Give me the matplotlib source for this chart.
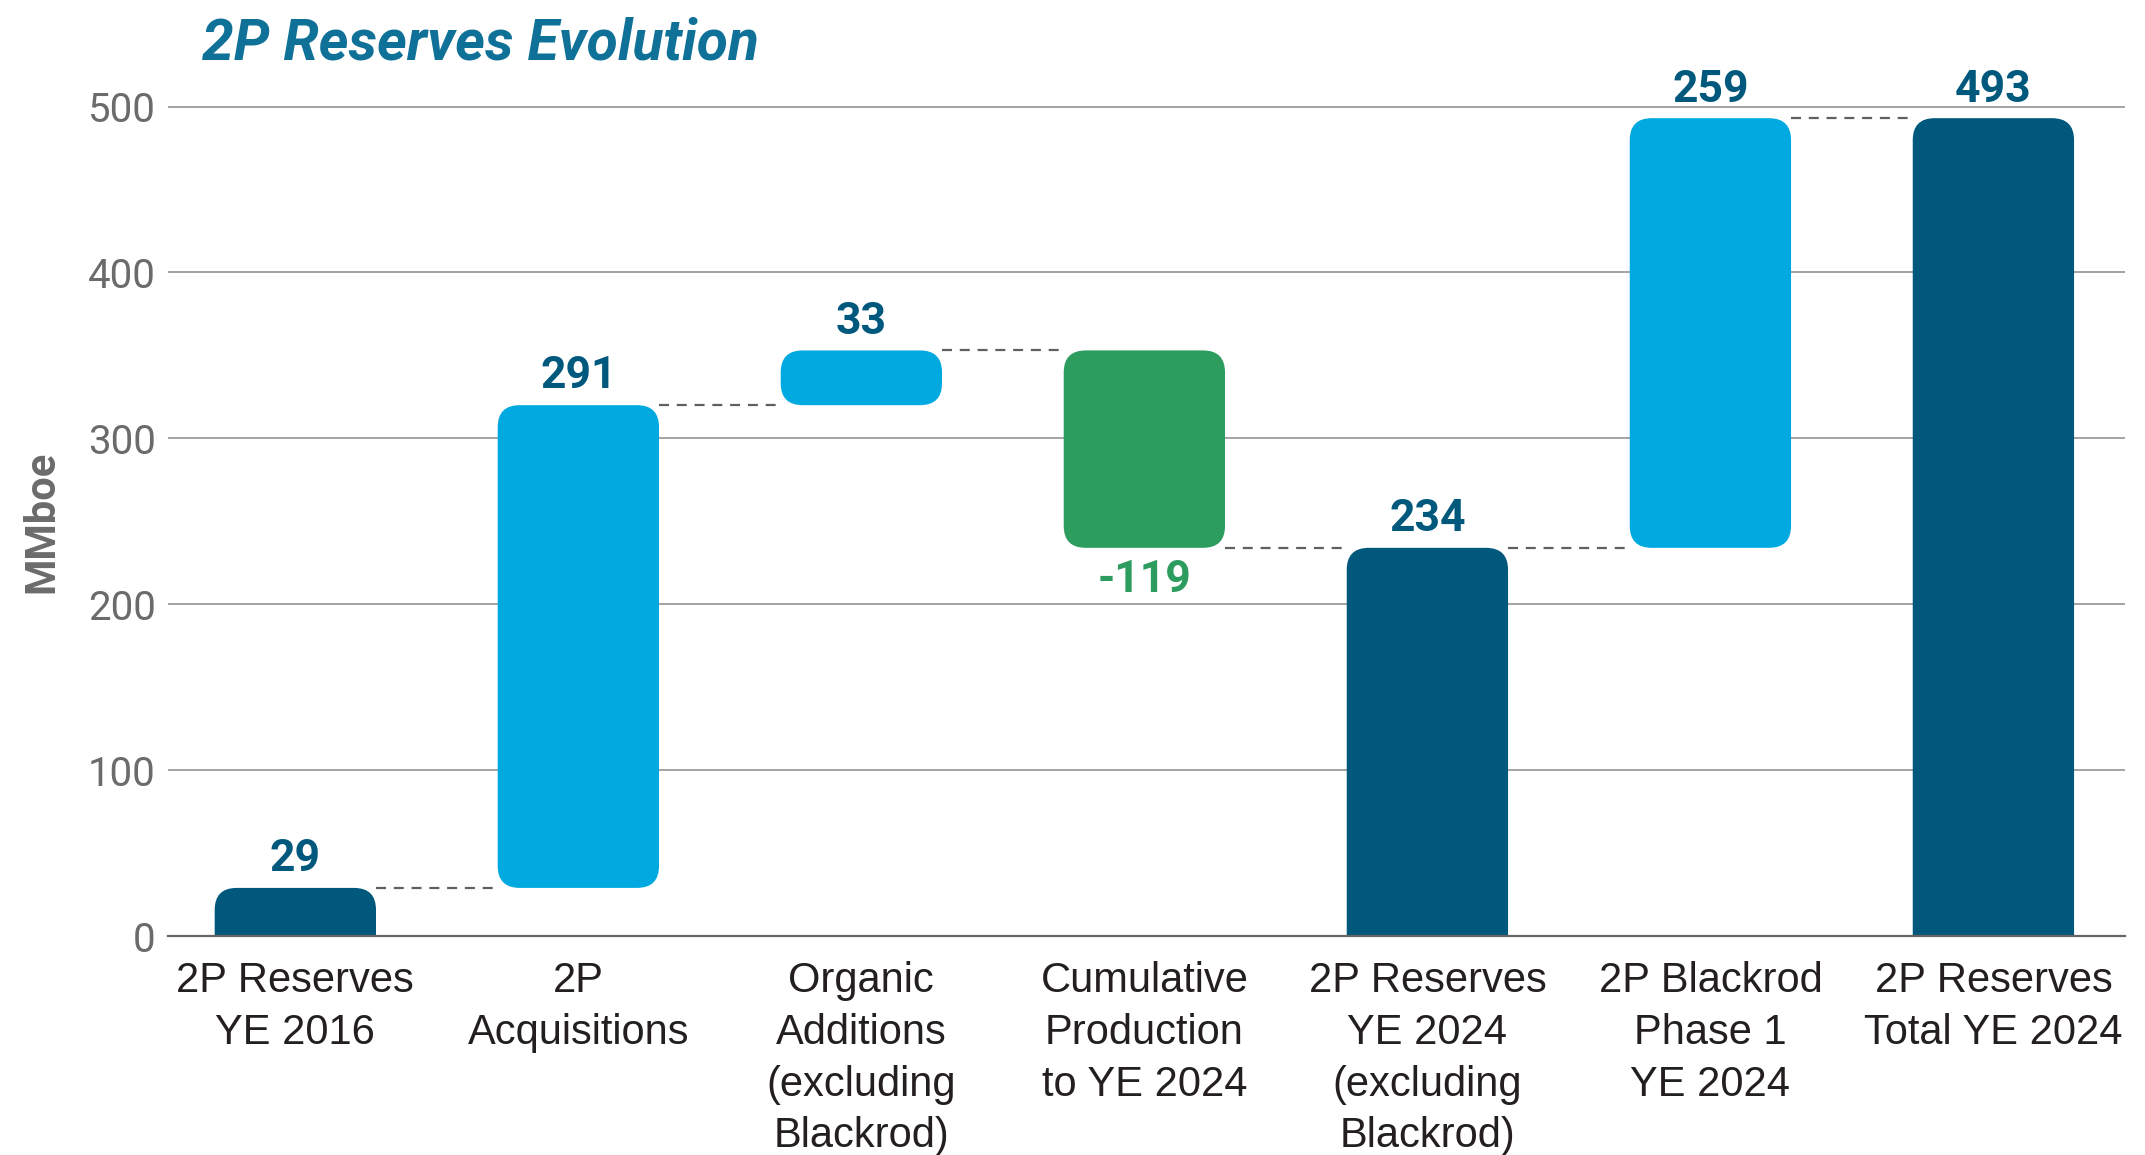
import numpy as np
import matplotlib
matplotlib.use("Agg")
import matplotlib.pyplot as plt
from matplotlib.patches import FancyBboxPatch

# -------------------- Data --------------------
categories = [
    "2P Reserves\nYE 2016",
    "2P\nAcquisitions",
    "Organic\nAdditions\n(excluding\nBlackrod)",
    "Cumulative\nProduction\nto YE 2024",
    "2P Reserves\nYE 2024\n(excluding\nBlackrod)",
    "2P Blackrod\nPhase 1\nYE 2024",
    "2P Reserves\nTotal YE 2024",
]
values = [29, 291, 33, -119, 234, 259, 493]
kinds = ["total", "inc", "inc", "dec", "total", "inc", "total"]
y_ticks = [0, 100, 200, 300, 400, 500]

# -------------------- Style --------------------
navy = "#00587C"
light_blue = "#00A9E0"
green = "#2D9C5F"
title_col = "#0F7198"
grey_txt = "#6B6B6B"
colors = {"total": navy, "inc": light_blue, "dec": green}

label_font = "Liberation Sans"
num_font = "Roboto"

W, H, DPI = 2145, 1155, 100
fig = plt.figure(figsize=(W / DPI, H / DPI), dpi=DPI)
ax = fig.add_axes([168 / W, 0.1896, (2125 - 168) / W, 0.7325])

x = np.arange(len(values))
bar_w = 0.57
ax.set_xlim(-0.45, 6.465)
ax.set_ylim(0, 510)

# pixel scale for rounded corners
px_x = ax.get_window_extent().width / (ax.get_xlim()[1] - ax.get_xlim()[0])
px_y = ax.get_window_extent().height / (ax.get_ylim()[1] - ax.get_ylim()[0])
r_px = 22
r_x = r_px / px_x
aspect = (r_px / px_y) / r_x

# -------------------- Bars --------------------
cum = 0
levels = []
for i, (v, k) in enumerate(zip(values, kinds)):
    if k == "total":
        lo, hi = 0, v
        cum = v
    else:
        lo, hi = sorted([cum, cum + v])
        cum = cum + v
    draw_lo = lo - 2 * r_px / px_y if k == "total" else lo
    patch = FancyBboxPatch((x[i] - bar_w / 2, draw_lo), bar_w, hi - draw_lo,
                           boxstyle=f"round,pad=0,rounding_size={r_x}",
                           mutation_aspect=aspect, fc=colors[k], ec="none",
                           zorder=3, clip_on=True)
    ax.add_patch(patch)
    levels.append(cum)

    if v >= 0:
        ax.annotate(str(v), (x[i], hi), xytext=(0, 12), textcoords="offset points",
                    ha="center", va="baseline", fontsize=32, fontweight="bold",
                    family=num_font, color=navy)
    else:
        ax.annotate(str(v), (x[i], lo), xytext=(0, -31.5), textcoords="offset points",
                    ha="center", va="baseline", fontsize=32, fontweight="bold",
                    family=num_font, color=green)

# dashed connectors
for i in range(len(values) - 1):
    ax.plot([x[i] + bar_w / 2, x[i + 1] - bar_w / 2], [levels[i], levels[i]],
            color="#606060", lw=1.6, linestyle=(0, (4.5, 3.5)), zorder=2)

# -------------------- Axes --------------------
ax.set_yticks(y_ticks)
ax.set_yticklabels([str(t) for t in y_ticks], family=num_font, fontsize=29, color=grey_txt)
ax.grid(axis="y", color="#8A8A8A", lw=1.1, zorder=0)
ax.set_axisbelow(True)
for s in ["top", "right", "left"]:
    ax.spines[s].set_visible(False)
ax.spines["bottom"].set_color("#666666")
ax.spines["bottom"].set_linewidth(1.6)
ax.spines["bottom"].set_zorder(4)
ax.tick_params(axis="y", length=0, pad=9)
ax.tick_params(axis="x", length=0, pad=18)
ax.set_xticks(x)
ax.set_xticklabels(categories, family=label_font, fontsize=30, color="#231F20",
                   linespacing=1.38)

ax.set_ylabel("MMboe", family=num_font, fontsize=30, fontweight="bold", color=grey_txt)
ax.yaxis.set_label_coords(-0.054, 0.49)

fig.text(202 / W, 1 - 60 / H, "2P Reserves Evolution", family=num_font, fontsize=41,
         fontweight="bold", fontstyle="italic", color=title_col, va="baseline", ha="left")

fig.savefig("out.png", dpi=DPI)
